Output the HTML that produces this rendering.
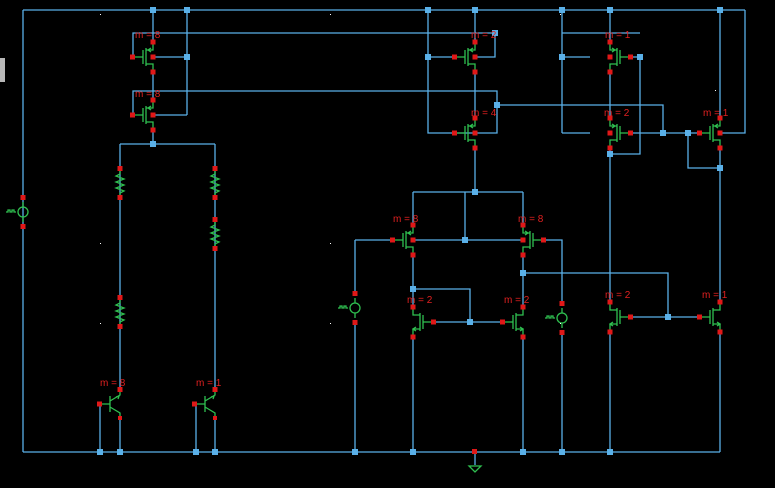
<!DOCTYPE html>
<html><head><meta charset="utf-8"><style>
html,body{margin:0;padding:0;background:#000;width:775px;height:488px;overflow:hidden}
svg{display:block}
.w{stroke:#5ab0e8;stroke-width:1.3;fill:none}
.g{stroke:#2fc050;stroke-width:1.3;fill:none}
text{font-family:"Liberation Sans",sans-serif;font-size:10px;fill:#e02020}
</style></head><body>
<svg width="775" height="488" viewBox="0 0 775 488" xmlns="http://www.w3.org/2000/svg">
<defs>
<g id="pm">
 <path class="g" d="M-18 0H-10M-10 -7V7M-7 -9V9M-7 -7H0V-13M-7 7H0V13M-5 -7l3 -2M-5 -7l3 2"/>
 <rect x="-23" y="-2.5" width="5" height="5" fill="#e01818"/>
 <rect x="-2.5" y="-17.5" width="5" height="5" fill="#e01818"/>
 <rect x="-2.5" y="12.5" width="5" height="5" fill="#e01818"/>
 <rect x="-2.5" y="-2.5" width="5" height="5" fill="#e01818"/>
</g>
<g id="nm">
 <path class="g" d="M-18 0H-10M-10 -7V7M-7 -9V9M-7 -7H0V-13M-7 7H0V13M-3 5l3 2l-3 2"/>
 <rect x="-23" y="-2.5" width="5" height="5" fill="#e01818"/>
 <rect x="-2.5" y="-17.5" width="5" height="5" fill="#e01818"/>
 <rect x="-2.5" y="12.5" width="5" height="5" fill="#e01818"/>
</g>
<g id="res">
 <path class="g" d="M0 -12V-9l-4 2l8 3l-8 3l8 3l-8 3l8 3l-4 2V12"/>
 <rect x="-2.5" y="-17" width="5" height="5" fill="#e01818"/>
 <rect x="-2.5" y="12" width="5" height="5" fill="#e01818"/>
</g>
<g id="src">
 <circle class="g" cx="0" cy="0" r="5"/>
 <path class="g" d="M0 -5V-10M0 5V10M-7 0h-2v-2h-2v2h-2v-2h-2v2h-2"/>
 <rect x="-2.5" y="-17" width="5" height="5" fill="#e01818"/>
 <rect x="-2.5" y="12" width="5" height="5" fill="#e01818"/>
</g>
<g id="bjt">
 <path class="g" d="M-18 0H-10M-10 -8V8M-10 -3L0 -9V-14M-10 3L0 9V14M-4 -7l3 -1l-1 3"/>
 <rect x="-23" y="-2.5" width="5" height="5" fill="#e01818"/>
 <rect x="-2.5" y="-17" width="5" height="5" fill="#e01818"/>
 <rect x="-2" y="12" width="4" height="4" fill="#e01818"/>
</g>
</defs>
<rect x="0" y="58" width="5" height="24" fill="#b8b8b8"/>
<g class="w">
 <path d="M23 10H745M23 452H720M23 10V452"/>
 <path d="M153 10V42M187 10V115M153 57H187M153 115H187M133 57V33H495M133 115V91H497V105M153 72V100M153 130V144M120 144H215M120 144V390M215 144V390M100 404V452M120 418V452M196 404V452M215 418V452"/>
 <path d="M428 10V133H497V105H663V133M475 10V42M428 57H455M475 57H495V33M475 72V118M475 148V192M413 192H523M465 192V240M413 192V225M523 192V225M355 240H393M355 240V293M355 322V452M413 240H523M542 240H562V303M562 332V452M413 255V307M413 289H470V322M432 322H504M413 337V452M523 255V307M523 273H668V317M523 337V452"/>
 <path d="M562 10V133M562 57H590M610 10V42M630 57H640V154H610M562 33H640M610 72V118M562 133H590M630 133H700M610 148V303M688 133V168H720M720 10V118M720 133H745V10M720 148V303M630 317H700M610 332V452M720 332V452M475 452V465"/>
</g>
<path class="g" d="M469 466H481L475 472Z"/>
<rect x="472" y="449" width="5" height="5" fill="#e01818"/>
<g fill="#5ab0e8">
 <rect x="150" y="7" width="6" height="6"/><rect x="184" y="7" width="6" height="6"/><rect x="184" y="54" width="6" height="6"/><rect x="150" y="141" width="6" height="6"/>
 <rect x="425" y="7" width="6" height="6"/><rect x="472" y="7" width="6" height="6"/><rect x="559" y="7" width="6" height="6"/><rect x="607" y="7" width="6" height="6"/><rect x="717" y="7" width="6" height="6"/>
 <rect x="425" y="54" width="6" height="6"/><rect x="492" y="30" width="6" height="6"/><rect x="559" y="54" width="6" height="6"/><rect x="637" y="54" width="6" height="6"/>
 <rect x="494" y="102" width="6" height="6"/><rect x="660" y="130" width="6" height="6"/><rect x="685" y="130" width="6" height="6"/><rect x="607" y="151" width="6" height="6"/><rect x="717" y="165" width="6" height="6"/>
 <rect x="472" y="189" width="6" height="6"/><rect x="462" y="237" width="6" height="6"/><rect x="410" y="286" width="6" height="6"/><rect x="467" y="319" width="6" height="6"/><rect x="520" y="270" width="6" height="6"/><rect x="665" y="314" width="6" height="6"/>
 <rect x="97" y="449" width="6" height="6"/><rect x="117" y="449" width="6" height="6"/><rect x="193" y="449" width="6" height="6"/><rect x="212" y="449" width="6" height="6"/><rect x="352" y="449" width="6" height="6"/><rect x="410" y="449" width="6" height="6"/><rect x="520" y="449" width="6" height="6"/><rect x="559" y="449" width="6" height="6"/><rect x="607" y="449" width="6" height="6"/>
</g>
<use href="#pm" x="153" y="57"/><use href="#pm" x="153" y="115"/>
<use href="#pm" x="475" y="57"/><use href="#pm" x="475" y="133"/>
<use href="#pm" transform="translate(610 57) scale(-1 1)"/><use href="#pm" transform="translate(610 133) scale(-1 1)"/>
<use href="#pm" x="720" y="133"/>
<use href="#pm" x="413" y="240"/><use href="#pm" transform="translate(523 240) scale(-1 1)"/>
<use href="#nm" transform="translate(413 322) scale(-1 1)"/><use href="#nm" x="523" y="322"/>
<use href="#nm" transform="translate(610 317) scale(-1 1)"/><use href="#nm" x="720" y="317"/>
<use href="#res" x="120" y="183"/><use href="#res" x="120" y="312"/>
<use href="#res" x="215" y="183"/><use href="#res" x="215" y="234"/>
<use href="#src" x="23" y="212"/><use href="#src" x="355" y="308"/><use href="#src" x="562" y="318"/>
<use href="#bjt" x="120" y="404"/><use href="#bjt" x="215" y="404"/>
<text x="135" y="38">m = 8</text><text x="135" y="97">m = 8</text>
<text x="471" y="38">m = 2</text><text x="471" y="116">m = 4</text>
<text x="605" y="38">m = 1</text><text x="604" y="116">m = 2</text><text x="703" y="116">m = 1</text>
<text x="393" y="222">m = 8</text><text x="518" y="222">m = 8</text>
<text x="407" y="303">m = 2</text><text x="504" y="303">m = 2</text>
<text x="605" y="298">m = 2</text><text x="702" y="298">m = 1</text>
<text x="100" y="386">m = 8</text><text x="196" y="386">m = 1</text>
<g fill="#fff">
 <rect x="100" y="14" width="1" height="1"/><rect x="330" y="14" width="1" height="1"/><rect x="560" y="14" width="1" height="1"/>
 <rect x="100" y="243" width="1" height="1"/><rect x="330" y="243" width="1" height="1"/><rect x="715" y="90" width="1" height="1"/>
 <rect x="100" y="323" width="1" height="1"/><rect x="330" y="323" width="1" height="1"/><rect x="560" y="323" width="1" height="1"/>
</g>
</svg>
</body></html>
